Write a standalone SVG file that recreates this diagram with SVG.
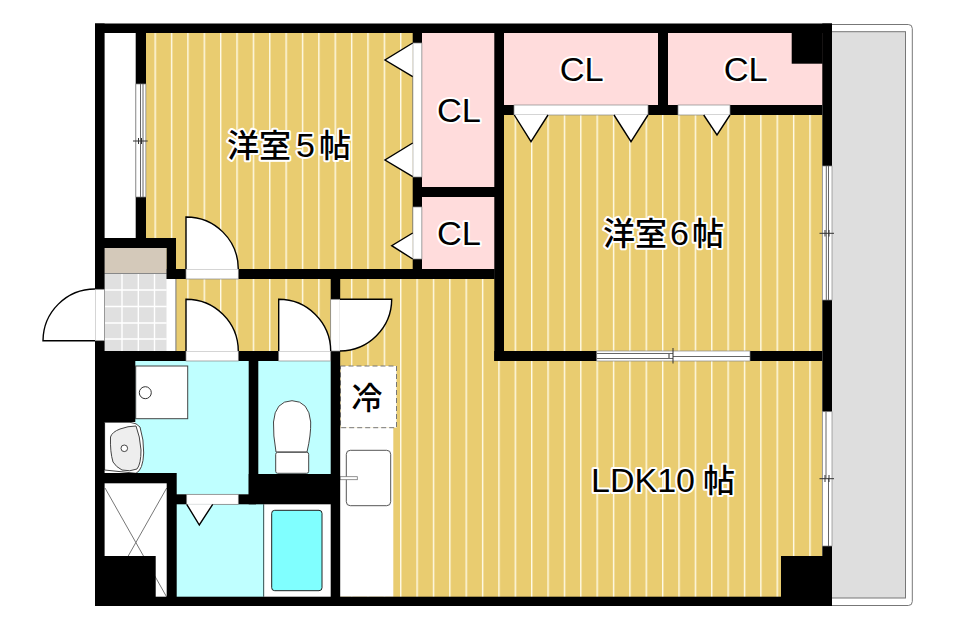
<svg xmlns="http://www.w3.org/2000/svg" width="953" height="631" viewBox="0 0 953 631">
<style>
.w{fill:#000}
.op{fill:#fff;stroke:#888;stroke-width:.7}
.door{fill:#fff;stroke:#000;stroke-width:1.4}
.win{stroke:#666;stroke-width:1;fill:none}
.tick{stroke:#333;stroke-width:1;fill:none}
.fl{fill:url(#floor)}
.pk{fill:#ffdcdc}
.cy{fill:#bfffff}
.eq{fill:#fff;stroke:#555;stroke-width:1}
text{font-family:"Noto Sans CJK JP","Liberation Sans",sans-serif;font-weight:500;fill:#000;stroke:#fff;stroke-width:4px;paint-order:stroke;stroke-linejoin:round;font-size:32px}
.cl{font-family:"Liberation Sans",Arial,sans-serif;font-weight:400;font-size:34px}
</style>
<defs>
<pattern id="floor" patternUnits="userSpaceOnUse" x="154.5" y="0" width="16.37" height="40">
<rect width="16.37" height="40" fill="#e9cc70"/>
<rect x="0" width="1.4" height="40" fill="#fffbe8"/>
</pattern>
</defs>
<rect width="953" height="631" fill="#fff"/>

<g id="balcony">
<rect x="825" y="24.5" width="87.3" height="581" rx="4" fill="#fff" stroke="#777" stroke-width="1"/>
<rect x="825" y="31.7" width="80.5" height="566.3" fill="#dedede" stroke="#777" stroke-width="1"/>
</g>

<g id="room-west">
<rect x="146" y="33" width="267" height="236" class="fl"/>
</g>
<g id="room-east">
<rect x="504" y="115" width="318.3" height="236" class="fl"/>
</g>
<g id="ldk">
<rect x="340" y="279" width="155" height="318" class="fl"/>
<rect x="494" y="361" width="328.3" height="236" class="fl"/>
</g>
<g id="hall">
<rect x="176" y="279" width="155" height="72" class="fl"/>
</g>

<g id="closets">
<rect x="422" y="33" width="73" height="154" class="pk"/>
<rect x="422" y="197" width="73" height="72" class="pk"/>
<rect x="504" y="33" width="154" height="72" class="pk"/>
<rect x="668" y="33" width="155" height="72" class="pk"/>
</g>

<g id="wet-rooms">
<rect x="135" y="361" width="114" height="112" class="cy"/>
<rect x="176" y="473" width="73" height="21.5" class="cy"/>
<rect x="258" y="361" width="73" height="113" class="cy"/>
<rect x="176" y="504" width="88" height="93" class="cy"/>
</g>

<g id="storage-west">
<rect x="104.6" y="33" width="31.4" height="205" fill="#fff"/>
</g>

<g id="entry">
<rect x="104.3" y="248" width="62.4" height="25.3" fill="#d4c9ba"/>
<rect x="104.3" y="273.3" width="62.4" height="77.7" fill="#e0e0e0"/>
<path d="M122 273.3V351M138.3 273.3V351M154.5 273.3V351M104.3 290H166.7M104.3 306.5H166.7M104.3 323H166.7M104.3 339H166.7" stroke="#fff" stroke-width="1.4" fill="none"/>
<rect x="104.3" y="273" width="62.4" height="1" fill="#888"/>
<rect x="166.7" y="279" width="9" height="72" fill="#fff"/>
<rect x="175.4" y="279" width="1" height="72" fill="#777"/>
</g>

<g id="kitchen">
<rect x="340" y="427.7" width="53.3" height="169" fill="#fff"/>
<rect x="346.3" y="450.3" width="44.4" height="55.4" rx="4" class="eq"/>
<rect x="340" y="476.7" width="17.3" height="3" fill="#fff" stroke="#777" stroke-width=".8"/>
<rect x="340.5" y="366" width="56" height="61.7" fill="#fff" stroke="#777" stroke-width="1" stroke-dasharray="5 3"/>
<text x="351.5" y="409" style="stroke:none;font-size:31px">冷</text>
</g>

<g id="washroom-fixtures">
<rect x="135.7" y="366" width="52" height="52.7" fill="#fff" stroke="#444" stroke-width="1"/>
<circle cx="145.3" cy="392.7" r="6" fill="#fff" stroke="#333" stroke-width="1"/>
<path d="M104.6 422.3H130Q137 423 140 427Q144 440 143.7 453Q143 470 136 473.3L104.6 470Z" fill="#fff" stroke="#444" stroke-width="1"/>
<path d="M110.5 437Q112 432 120 429Q128 426 136 426Q140 436 141 450Q141 464 137 469Q130 472 122 470Q116 467 113 462Q110 452 110.5 437Z" fill="#eee" stroke="#444" stroke-width="1"/>
<circle cx="124.3" cy="448.3" r="3.3" fill="#fff" stroke="#333" stroke-width=".9"/>
</g>

<g id="toilet">
<path d="M276 452Q273 435 273.5 422Q275 401 292 400.7Q309 401 310.7 422Q311 435 307 452Z" fill="#fff" stroke="#444" stroke-width="1"/>
<rect x="275.7" y="452.3" width="33" height="21" rx="2" fill="#fff" stroke="#444" stroke-width="1"/>
</g>

<g id="bath">
<rect x="263.3" y="504.3" width="67" height="92.4" fill="#fff"/>
<rect x="263" y="504.3" width="1.2" height="92.4" fill="#4a6a6a"/>
<rect x="271.7" y="510.3" width="50.3" height="80.4" rx="3" fill="#80ffff" stroke="#222" stroke-width="1"/>
</g>

<g id="shaft">
<rect x="104.6" y="483.3" width="62.1" height="113" fill="#fff"/>
<path d="M105 488L166.7 597M166.7 488L105 597" stroke="#777" stroke-width="1" fill="none"/>
</g>

<g id="walls">
<rect class="w" x="95" y="23.5" width="737" height="9.5"/>
<rect class="w" x="95" y="596.7" width="737" height="9.3"/>
<rect class="w" x="95" y="23.5" width="9.6" height="582.5"/>
<rect class="w" x="822.3" y="23.5" width="9.7" height="582.5"/>
<rect class="w" x="135.7" y="33" width="10.3" height="205"/>
<rect class="w" x="95" y="238" width="81" height="10"/>
<rect class="w" x="166.7" y="238" width="9.3" height="41"/>
<rect class="w" x="166.7" y="269" width="328" height="10"/>
<rect class="w" x="412.7" y="33" width="9.3" height="236"/>
<rect class="w" x="494.3" y="33" width="9.7" height="328"/>
<rect class="w" x="422" y="187" width="73" height="10"/>
<rect class="w" x="504" y="105" width="318.3" height="10"/>
<rect class="w" x="658" y="33" width="10" height="82"/>
<rect class="w" x="791.7" y="33" width="31" height="30.7"/>
<rect class="w" x="494.3" y="351" width="328" height="10"/>
<rect class="w" x="330.7" y="279" width="9.5" height="327"/>
<rect class="w" x="95" y="351" width="245" height="10"/>
<rect class="w" x="95" y="351" width="40.3" height="71"/>
<rect class="w" x="248.7" y="351" width="9.6" height="153"/>
<rect class="w" x="248.7" y="474" width="90" height="30.3"/>
<rect class="w" x="95" y="473" width="81" height="10.3"/>
<rect class="w" x="166.7" y="473" width="10" height="133"/>
<rect class="w" x="176" y="494.3" width="80" height="10"/>
<rect class="w" x="95" y="556" width="60.7" height="50"/>
<rect class="w" x="781" y="556" width="51" height="50"/>
</g>

<g id="openings">
<rect class="op" x="135.9" y="84" width="10" height="113"/>
<rect class="op" x="412.9" y="43" width="9" height="134"/>
<rect class="op" x="412.9" y="207" width="9" height="52"/>
<rect class="op" x="514" y="105" width="134" height="10"/>
<rect class="op" x="678" y="105" width="52" height="10"/>
<rect class="op" x="186" y="269" width="52.3" height="10"/>
<rect class="op" x="186" y="351" width="52.3" height="10"/>
<rect class="op" x="278.7" y="351" width="52" height="10"/>
<rect class="op" x="330.7" y="299.3" width="9.5" height="51.7"/>
<rect class="op" x="95" y="289.3" width="9.6" height="51.4"/>
<rect class="op" x="186.7" y="494.3" width="51.6" height="10"/>
<rect class="op" x="596.7" y="351" width="153.3" height="10"/>
<rect class="op" x="822.3" y="166" width="9.7" height="134"/>
<rect class="op" x="822.3" y="411.7" width="9.7" height="134.3"/>
</g>

<g id="windows">
<path class="win" d="M140.5 84V197M143 84V197"/>
<path class="tick" d="M133 141H147.7M138.5 138V144M141.5 138V144"/>
<path class="win" d="M826.3 166V300M828.5 166V300"/>
<path class="tick" d="M819.5 233.3H834M825 230V236.5M829 230V236.5"/>
<path class="win" d="M826 411.7V478M828.5 478V546"/>
<path class="tick" d="M819.5 478.7H834M825 475V482M829 475V482"/>
<path class="win" d="M596.7 353.5H673M673 356.5H750M596.7 358.5H673"/>
<path class="tick" d="M673 348V363.5M669 354V358"/>
</g>

<g id="doors">
<path class="door" d="M186 269V217A52 52 0 0 1 238.3 269"/>
<path class="door" d="M186 351V299.3A52 52 0 0 1 238.3 351"/>
<path class="door" d="M278.7 351V299.3A52 52 0 0 1 330.7 351"/>
<path class="door" d="M340 299.3H391.7A52 52 0 0 1 340 351"/>
<path class="door" d="M95 340.7H43A52 52 0 0 1 95 289"/>
<path class="door" d="M412.7 43L385 60L412.7 76.7"/>
<path class="door" d="M412.7 143L385 160L412.7 176.7"/>
<path class="door" d="M412.7 233L391.7 245.7L412.7 259"/>
<path class="door" d="M514.3 115L531 141.7L548 115"/>
<path class="door" d="M614 115L631 141.7L648 115"/>
<path class="door" d="M703.7 115L717 135L730 115"/>
<path class="door" d="M186.7 504.3L199.3 525L212.7 504.3"/>
</g>

<g id="labels">
<text class="cl" x="581.7" y="81" text-anchor="middle" textLength="44" lengthAdjust="spacingAndGlyphs">CL</text>
<text class="cl" x="745.7" y="81" text-anchor="middle" textLength="44" lengthAdjust="spacingAndGlyphs">CL</text>
<text class="cl" x="459" y="122" text-anchor="middle" textLength="44" lengthAdjust="spacingAndGlyphs">CL</text>
<text class="cl" x="459" y="244.5" text-anchor="middle" textLength="44" lengthAdjust="spacingAndGlyphs">CL</text>
<text y="157"><tspan x="227">洋室</tspan><tspan x="296" class="cl">5</tspan><tspan x="319">帖</tspan></text>
<text y="245"><tspan x="603">洋室</tspan><tspan x="670" class="cl">6</tspan><tspan x="692">帖</tspan></text>
<text y="491.7"><tspan x="591" class="cl">LDK10</tspan><tspan x="703">帖</tspan></text>
</g>
</svg>
